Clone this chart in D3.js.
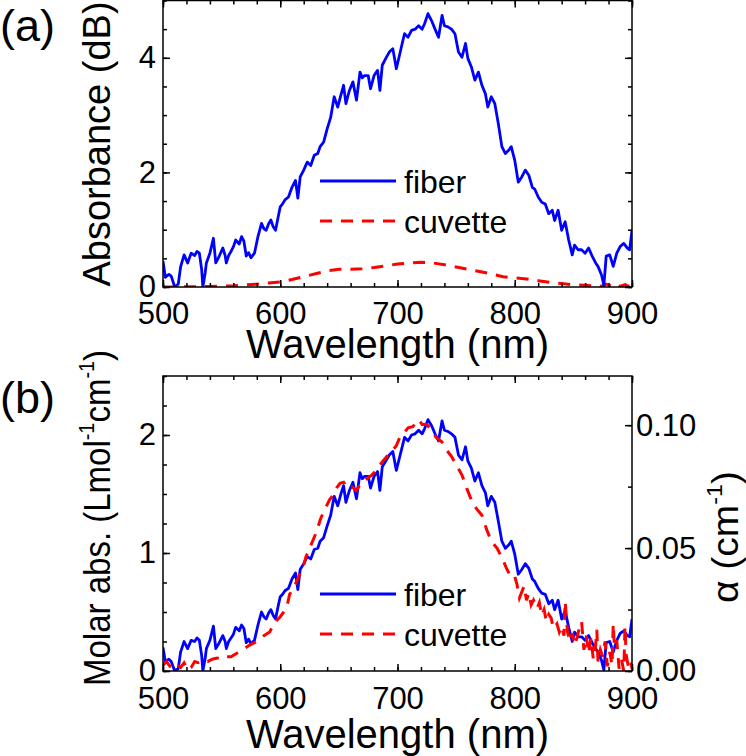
<!DOCTYPE html>
<html><head><meta charset="utf-8">
<script src="https://cdn.jsdelivr.net/npm/d3@7"></script>
<style>
body{margin:0;background:#fff}
svg{display:block;font-family:"Liberation Sans",Arial,Helvetica,sans-serif}
</style></head><body>
<svg id="c" width="746" height="756"></svg>
<script>
// ---------- data ----------
const xTicksMajor=[500,600,700,800,900];
const yTicksA=[0,2,4];
const yTicksB=[0,1,2];
const yTicksAlpha=[0,0.05,0.10];
const legendLabels=["fiber","cuvette"];

// panel (a): fiber absorbance (dB)
const fiberA=[[500,0.45],[502,0.17],[505,0.22],[507,0.19],[510,0.00],[513,0.05],[515,0.35],[518,0.56],[521,0.42],[524,0.59],[527,0.55],[529,0.62],[531,0.59],[533,0.30],[534,0.00],[536,0.25],[537,0.42],[540,0.59],[543,0.85],[545,0.42],[548,0.54],[551,0.68],[553,0.55],[554,0.42],[556,0.55],[558,0.62],[560,0.70],[562,0.82],[565,0.75],[567,0.88],[569,0.80],[571,0.54],[573,0.60],[575,0.51],[578,0.59],[581,0.88],[584,1.11],[586,1.02],[588,0.99],[590,1.10],[592,1.17],[594,1.05],[596,0.99],[598,1.20],[600,1.40],[602,1.45],[604,1.52],[607,1.57],[610,1.74],[613,1.86],[615,1.55],[617,1.92],[620,2.04],[623,2.18],[626,2.12],[629,2.30],[632,2.33],[634,2.45],[637,2.53],[640,2.76],[643,2.96],[646,3.32],[649,3.14],[652,3.37],[654,3.52],[656,3.20],[659,3.43],[662,3.58],[665,3.26],[668,3.75],[670,3.65],[672,3.69],[675,3.69],[677,3.46],[680,3.69],[683,3.78],[685,3.43],[687,3.87],[690,3.99],[693,4.10],[696,4.16],[699,3.81],[702,4.07],[704,4.25],[706,4.42],[709,4.36],[712,4.48],[715,4.50],[718,4.56],[721,4.50],[723,4.59],[726,4.77],[729,4.65],[732,4.50],[735,4.36],[738,4.74],[740,4.56],[743,4.54],[746,4.50],[749,4.42],[752,4.10],[755,4.01],[758,4.25],[760,3.99],[763,3.84],[766,3.61],[769,3.75],[772,3.52],[775,3.37],[777,3.14],[780,3.32],[783,3.20],[786,2.85],[789,2.45],[792,2.33],[795,2.39],[797,2.45],[800,2.21],[803,1.83],[806,1.92],[809,2.04],[812,1.95],[815,1.74],[817,1.71],[820,1.57],[823,1.48],[826,1.45],[829,1.28],[832,1.34],[834,1.16],[837,1.34],[840,0.99],[843,1.14],[846,0.82],[849,0.56],[851,0.73],[854,0.65],[857,0.65],[860,0.59],[863,0.68],[866,0.54],[869,0.42],[871,0.36],[874,0.21],[876,0.03],[878,0.54],[881,0.56],[884,0.36],[887,0.59],[890,0.71],[893,0.76],[896,0.68],[898,0.65],[900,0.99]];

// panel (a): cuvette absorbance (dB)
const cuvetteA=[[500,0.00],[510,0.00],[520,0.005],[530,0.005],[540,0.01],[550,0.015],[560,0.02],[570,0.035],[580,0.05],[590,0.07],[600,0.09],[610,0.13],[620,0.18],[630,0.23],[640,0.28],[650,0.31],[660,0.31],[670,0.32],[680,0.34],[690,0.37],[700,0.40],[710,0.42],[720,0.43],[730,0.42],[740,0.39],[750,0.35],[760,0.31],[770,0.27],[780,0.23],[790,0.18],[800,0.16],[810,0.14],[820,0.11],[830,0.08],[840,0.06],[850,0.04],[860,0.03],[866,0.02],[870,0.04],[874,0.01],[878,0.05],[882,0.02],[886,0.06],[890,0.01],[894,0.04],[897,0.01],[900,0.03]];

// panel (b): fiber molar absorptivity
const fiberB=[[500,0.20],[502,0.08],[505,0.10],[507,0.08],[510,0.00],[513,0.02],[515,0.16],[518,0.25],[521,0.19],[524,0.26],[527,0.25],[529,0.28],[531,0.26],[533,0.13],[534,0.00],[536,0.11],[537,0.19],[540,0.26],[543,0.38],[545,0.19],[548,0.24],[551,0.30],[553,0.25],[554,0.19],[556,0.25],[558,0.28],[560,0.31],[562,0.37],[565,0.34],[567,0.39],[569,0.36],[571,0.24],[573,0.27],[575,0.23],[578,0.26],[581,0.39],[584,0.50],[586,0.46],[588,0.44],[590,0.49],[592,0.52],[594,0.47],[596,0.44],[598,0.54],[600,0.63],[602,0.65],[604,0.68],[607,0.70],[610,0.78],[613,0.83],[615,0.69],[617,0.86],[620,0.91],[623,0.97],[626,0.95],[629,1.03],[632,1.04],[634,1.10],[637,1.13],[640,1.23],[643,1.32],[646,1.48],[649,1.40],[652,1.51],[654,1.57],[656,1.43],[659,1.53],[662,1.60],[665,1.46],[668,1.68],[670,1.63],[672,1.65],[675,1.65],[677,1.55],[680,1.65],[683,1.69],[685,1.53],[687,1.73],[690,1.78],[693,1.83],[696,1.86],[699,1.70],[702,1.82],[704,1.90],[706,1.98],[709,1.95],[712,2.00],[715,2.01],[718,2.04],[721,2.01],[723,2.05],[726,2.13],[729,2.08],[732,2.01],[735,1.95],[738,2.12],[740,2.04],[743,2.03],[746,2.01],[749,1.98],[752,1.83],[755,1.79],[758,1.90],[760,1.78],[763,1.72],[766,1.61],[769,1.68],[772,1.57],[775,1.51],[777,1.40],[780,1.48],[783,1.43],[786,1.27],[789,1.10],[792,1.04],[795,1.07],[797,1.10],[800,0.99],[803,0.82],[806,0.86],[809,0.91],[812,0.87],[815,0.78],[817,0.76],[820,0.70],[823,0.66],[826,0.65],[829,0.57],[832,0.60],[834,0.52],[837,0.60],[840,0.44],[843,0.51],[846,0.37],[849,0.25],[851,0.33],[854,0.29],[857,0.29],[860,0.26],[863,0.30],[866,0.24],[869,0.19],[871,0.16],[874,0.09],[876,0.01],[878,0.24],[881,0.25],[884,0.16],[887,0.26],[890,0.32],[893,0.34],[896,0.30],[898,0.29],[900,0.44]];

// panel (b): cuvette molar absorptivity
const cuvetteB=[[500,0.05],[503,0.08],[506,0.04],[509,0.02],[512,0.05],[515,0.03],[518,0.07],[521,0.01],[524,0.03],[527,0.08],[530,0.07],[534,0.09],[538,0.08],[542,0.10],[546,0.11],[550,0.10],[554,0.12],[558,0.12],[563,0.15],[568,0.18],[574,0.22],[580,0.25],[586,0.30],[591,0.33],[595,0.41],[600,0.46],[603,0.50],[606,0.56],[608,0.65],[611,0.70],[614,0.76],[617,0.83],[620,0.90],[622,0.97],[625,1.04],[628,1.11],[631,1.18],[634,1.28],[637,1.35],[640,1.41],[642,1.45],[645,1.49],[648,1.55],[651,1.59],[654,1.60],[657,1.55],[661,1.56],[665,1.53],[669,1.60],[674,1.63],[678,1.66],[682,1.70],[686,1.76],[691,1.82],[695,1.86],[699,1.91],[702,1.98],[705,2.01],[709,2.06],[713,2.07],[718,2.13],[721,2.09],[725,2.09],[729,2.04],[733,1.98],[738,1.94],[742,1.87],[746,1.82],[750,1.75],[755,1.66],[759,1.55],[763,1.45],[767,1.38],[772,1.32],[776,1.20],[780,1.10],[785,1.04],[789,0.96],[793,0.87],[797,0.79],[800,0.80],[802,0.73],[804,0.62],[806,0.67],[808,0.72],[810,0.60],[812,0.66],[814,0.56],[816,0.60],[819,0.53],[821,0.58],[823,0.47],[825,0.52],[827,0.42],[829,0.48],[831,0.45],[833,0.36],[836,0.40],[838,0.33],[840,0.38],[842,0.30],[843,0.59],[845,0.33],[847,0.25],[849,0.32],[851,0.22],[853,0.28],[855,0.36],[857,0.42],[859,0.18],[861,0.30],[863,0.15],[865,0.28],[867,0.10],[869,0.22],[870,0.35],[871,0.08],[873,0.18],[875,0.12],[877,0.25],[879,0.04],[881,0.16],[883,0.05],[884,0.40],[885,0.20],[887,0.26],[889,0.02],[891,0.10],[893,0.00],[894,0.38],[895,0.14],[897,0.03],[899,0.08],[900,0.02]];

// ---------- drawing ----------
const svg=d3.select("#c");
const FONT='"Liberation Sans",Arial,Helvetica,sans-serif';
const BLUE="#0000ff", RED="#ff0000";
const L=163,R=632;
const A={top:0.5,bottom:287}, B={top:376,bottom:671};

const x=d3.scaleLinear().domain([500,900]).range([L,R]);
const yA=d3.scaleLinear().domain([0,5]).range([A.bottom,A.top]);
const yB=d3.scaleLinear().domain([0,2.5]).range([B.bottom,B.top]);
const yAl=d3.scaleLinear().domain([0,0.12]).range([B.bottom,B.top]);

const xMinor=d3.range(500,901,20);
const yAMinor=d3.range(0,5.001,0.5);
const yBMinor=d3.range(0,2.5001,0.25);
const alMinor=d3.range(0,0.12001,0.025);

function tickLayer(g,axis,vals,size){
  g.call(axis.tickValues(vals).tickSize(size).tickFormat(""));
  g.select(".domain").remove();
  g.selectAll("text").remove();
  g.selectAll("line").attr("stroke","#000").attr("stroke-width",1.5);
}
function labelLayer(g,axis,vals,pad,fmt){
  g.call(axis.tickValues(vals).tickSize(0).tickPadding(pad).tickFormat(fmt));
  g.select(".domain").remove();
  g.selectAll("line").remove();
  g.attr("font-size",31).attr("font-family",FONT);
  g.selectAll("text").attr("fill","#000");
}

svg.append("clipPath").attr("id","clipA").append("rect")
  .attr("x",L).attr("y",A.top).attr("width",R-L).attr("height",A.bottom-A.top);
svg.append("clipPath").attr("id","clipB").append("rect")
  .attr("x",L).attr("y",B.top).attr("width",R-L).attr("height",B.bottom-B.top);

const line=(ys)=>d3.line().x(d=>x(d[0])).y(d=>ys(d[1]));

// data lines (a)
const gA=svg.append("g").attr("clip-path","url(#clipA)");
gA.append("path").datum(cuvetteA).attr("d",line(yA)).attr("fill","none")
  .attr("stroke",RED).attr("stroke-width",3).attr("stroke-dasharray","12,9");
gA.append("path").datum(fiberA).attr("d",line(yA)).attr("fill","none")
  .attr("stroke",BLUE).attr("stroke-width",2.8).attr("stroke-linejoin","round");

// data lines (b)
const gB=svg.append("g").attr("clip-path","url(#clipB)");
gB.append("path").datum(fiberB).attr("d",line(yB)).attr("fill","none")
  .attr("stroke",BLUE).attr("stroke-width",2.8).attr("stroke-linejoin","round");
gB.append("path").datum(cuvetteB).attr("d",line(yB)).attr("fill","none")
  .attr("stroke",RED).attr("stroke-width",3).attr("stroke-dasharray","12,9");

// frames and ticks
[[A,yA,yAMinor,yTicksA],[B,yB,yBMinor,yTicksB]].forEach(([P,y,minor,major],i)=>{
  svg.append("rect").attr("x",L).attr("y",P.top).attr("width",R-L).attr("height",P.bottom-P.top)
    .attr("fill","none").attr("stroke","#000").attr("stroke-width",1.5);
  tickLayer(svg.append("g").attr("transform",`translate(0,${P.bottom})`),d3.axisBottom(x),xMinor,-4);
  tickLayer(svg.append("g").attr("transform",`translate(0,${P.bottom})`),d3.axisBottom(x),xTicksMajor,-7);
  tickLayer(svg.append("g").attr("transform",`translate(0,${P.top})`),d3.axisTop(x),xMinor,-4);
  tickLayer(svg.append("g").attr("transform",`translate(0,${P.top})`),d3.axisTop(x),xTicksMajor,-7);
  tickLayer(svg.append("g").attr("transform",`translate(${L},0)`),d3.axisLeft(y),minor,-4);
  tickLayer(svg.append("g").attr("transform",`translate(${L},0)`),d3.axisLeft(y),major,-7);
  labelLayer(svg.append("g").attr("transform",`translate(0,${P.bottom})`),d3.axisBottom(x),xTicksMajor,i===0?15:16,d3.format("d"));
  labelLayer(svg.append("g").attr("transform",`translate(${L},0)`),d3.axisLeft(y),major,7,d3.format("d"));
});
tickLayer(svg.append("g").attr("transform",`translate(${R},0)`),d3.axisRight(yA),yAMinor,-4);
tickLayer(svg.append("g").attr("transform",`translate(${R},0)`),d3.axisRight(yA),yTicksA,-7);
tickLayer(svg.append("g").attr("transform",`translate(${R},0)`),d3.axisRight(yAl),alMinor,-4);
tickLayer(svg.append("g").attr("transform",`translate(${R},0)`),d3.axisRight(yAl),yTicksAlpha,-7);
labelLayer(svg.append("g").attr("transform",`translate(${R},0)`),d3.axisRight(yAl),yTicksAlpha,4,d3.format(".2f"));

// axis titles
const cx=(L+R)/2;
svg.append("text").attr("x",cx).attr("y",358).attr("text-anchor","middle")
  .attr("font-size",40).attr("font-family",FONT).text("Wavelength (nm)");
svg.append("text").attr("x",cx).attr("y",748).attr("text-anchor","middle")
  .attr("font-size",40).attr("font-family",FONT).text("Wavelength (nm)");

svg.append("text").attr("transform","translate(110,144) rotate(-90)").attr("text-anchor","middle")
  .attr("font-size",38).attr("font-family",FONT).text("Absorbance (dB)");

// text with superscripts: parts alternate normal / superscript
function supText(t,parts,size,len){
  t.attr("font-size",size).attr("font-family",FONT);
  if(len) t.attr("textLength",len).attr("lengthAdjust","spacingAndGlyphs");
  const shift=size*0.42;
  let raised=false;
  parts.forEach(p=>{
    const ts=t.append("tspan").text(p.s);
    if(p.sup){ ts.attr("font-size",size*0.6).attr("dy",-shift); raised=true; }
    else if(raised){ ts.attr("dy",shift); raised=false; }
  });
}
const tb=svg.append("text").attr("transform","translate(110,518) rotate(-90)").attr("text-anchor","middle");
supText(tb,[{s:"Molar abs. (Lmol"},{s:"-1",sup:true},{s:"cm"},{s:"-1",sup:true},{s:")"}],37,336);

const tr=svg.append("text").attr("transform","translate(738,537) rotate(-90)").attr("text-anchor","middle");
supText(tr,[{s:"\u03B1 (cm"},{s:"-1",sup:true},{s:")"}],37,132);

// panel letters
svg.append("text").attr("x",0).attr("y",41).attr("font-size",45).attr("font-family",FONT).text("(a)");
svg.append("text").attr("x",0).attr("y",413).attr("font-size",45).attr("font-family",FONT).text("(b)");

// legends
function legend(y0){
  const rows=[{c:BLUE,d:null},{c:RED,d:"12,9"}];
  rows.forEach((r,i)=>{
    const yy=y0+i*40;
    svg.append("line").attr("x1",320).attr("x2",396).attr("y1",yy).attr("y2",yy)
      .attr("stroke",r.c).attr("stroke-width",3).attr("stroke-dasharray",r.d);
    svg.append("text").attr("x",404).attr("y",yy+12).attr("font-size",32).attr("font-family",FONT).text(legendLabels[i]);
  });
}
legend(181);
legend(594);
</script>
</body></html>
